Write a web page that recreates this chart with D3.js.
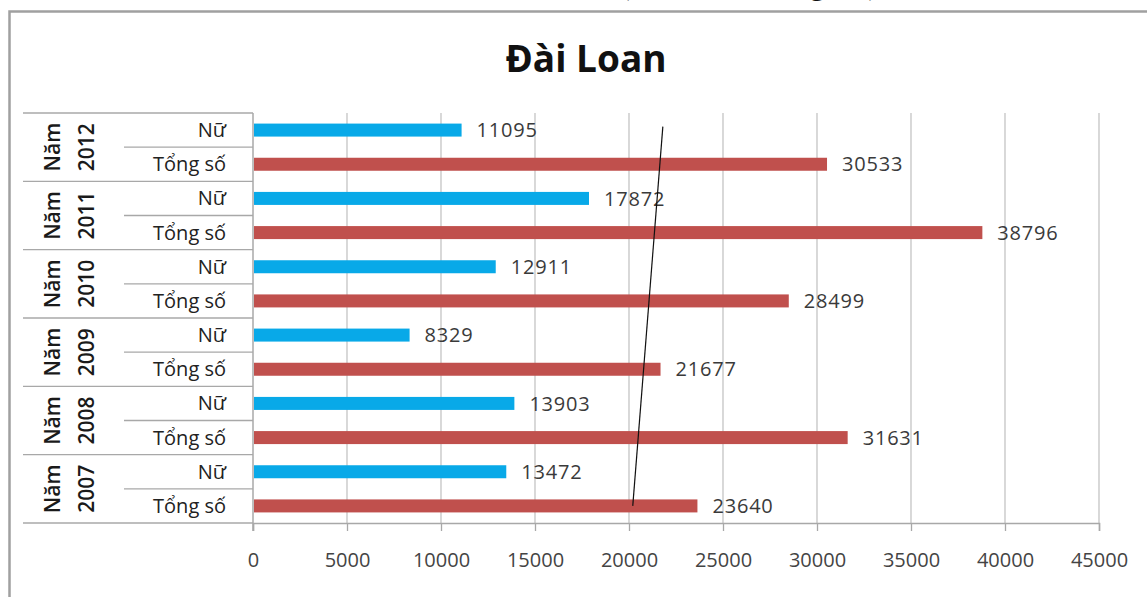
<!DOCTYPE html>
<html>
<head>
<meta charset="utf-8">
<script src="https://cdn.jsdelivr.net/npm/d3@7"></script>
<style>
  body { margin: 0; background: #fff; }
  svg { display: block; }
</style>
</head>
<body>
<svg id="chart" width="1147" height="597"></svg>
<script>
// data (top row first, as drawn)
var years = ["2012", "2011", "2010", "2009", "2008", "2007"];
var rowNames = ["Nữ", "Tổng số"];
var nuValues = [11095, 17872, 12911, 8329, 13903, 13472];
var tongValues = [30533, 38796, 28499, 21677, 31631, 23640];
var xTicks = [0, 5000, 10000, 15000, 20000, 25000, 30000, 35000, 40000, 45000];
// hand drawn line over the bars, in data units
var lineValues = [20200, 21800];
var lineRows = ["2007|Tổng số", "2012|Nữ"];
var lineShift = [0, -0.1]; // fraction of a row, up is negative

var svg = d3.select("#chart");
var W = 1147, H = 597;
var plotL = 253, plotR = 1099, plotT = 113, plotB = 523;

var rows = [];
years.forEach(function(yr, i){
  rows.push({key: yr + "|Nữ", year: yr, name: rowNames[0], value: nuValues[i], kind: "nu"});
  rows.push({key: yr + "|Tổng số", year: yr, name: rowNames[1], value: tongValues[i], kind: "tong"});
});

var x = d3.scaleLinear().domain([0, 45000]).range([plotL, plotR]);
var y = d3.scaleBand().domain(rows.map(function(d){ return d.key; })).range([plotT, plotB]);
var barH = 13;

// top text, only its bottom shows
svg.append("text")
  .attr("x", 749).attr("y", -6)
  .attr("text-anchor", "middle")
  .style("font-family", "'Liberation Serif', serif")
  .style("font-size", "32px")
  .attr("fill", "#111")
  .text("(Đơn vị tính: người)");

// chart frame
svg.append("path")
  .attr("d", "M9.5," + (H + 5) + "V11.5H" + (W + 5))
  .attr("fill", "none")
  .attr("stroke", "#a0a0a0")
  .attr("stroke-width", 2.5);

// title
svg.append("text")
  .attr("x", 586).attr("y", 72)
  .attr("text-anchor", "middle")
  .style("font-family", "'Open Sans', sans-serif")
  .style("font-weight", "bold")
  .style("font-size", "37px")
  .attr("fill", "#111")
  .text("Đài Loan");

// grid lines
svg.append("g").selectAll("line")
  .data(xTicks.slice(1))
  .enter().append("line")
  .attr("x1", function(d){ return x(d); })
  .attr("x2", function(d){ return x(d); })
  .attr("y1", plotT).attr("y2", plotB)
  .attr("stroke", "#c4c4c4")
  .attr("stroke-width", 1.3);

// x axis
var xAxis = svg.append("g")
  .attr("transform", "translate(0," + plotB + ")")
  .call(d3.axisBottom(x).tickValues(xTicks).tickSize(8).tickPadding(22).tickFormat(d3.format("d")));
xAxis.select(".domain").attr("stroke", "#a8a8a8").attr("stroke-width", 1.5);
xAxis.selectAll(".tick line").attr("stroke", "#a8a8a8").attr("stroke-width", 1.3);
xAxis.selectAll(".tick text")
  .style("font-family", "'Open Sans', sans-serif")
  .style("font-size", "20px")
  .attr("fill", "#444");

// category axis
var cat = svg.append("g");
cat.append("line")
  .attr("x1", plotL).attr("x2", plotL)
  .attr("y1", plotT).attr("y2", plotB + 8)
  .attr("stroke", "#a8a8a8").attr("stroke-width", 1.5);

var groupEdges = years.map(function(yr){ return y(yr + "|Nữ"); }).concat([plotB]);
cat.selectAll("line.group")
  .data(groupEdges)
  .enter().append("line")
  .attr("class", "group")
  .attr("x1", 23).attr("x2", plotL)
  .attr("y1", function(d){ return d; })
  .attr("y2", function(d){ return d; })
  .attr("stroke", "#a8a8a8").attr("stroke-width", 1.3);

cat.selectAll("line.inner")
  .data(years)
  .enter().append("line")
  .attr("class", "inner")
  .attr("x1", 124).attr("x2", plotL)
  .attr("y1", function(d){ return y(d + "|Tổng số"); })
  .attr("y2", function(d){ return y(d + "|Tổng số"); })
  .attr("stroke", "#a8a8a8").attr("stroke-width", 1.3);

cat.selectAll("text.row")
  .data(rows)
  .enter().append("text")
  .attr("class", "row")
  .attr("x", 226)
  .attr("y", function(d){ return y(d.key) + y.bandwidth() / 2; })
  .attr("dy", "0.35em")
  .attr("text-anchor", "end")
  .style("font-family", "'Open Sans', sans-serif")
  .style("font-size", "20px")
  .attr("fill", "#222")
  .text(function(d){ return d.name; });

var yearLab = cat.selectAll("g.year")
  .data(years)
  .enter().append("g")
  .attr("class", "year")
  .attr("transform", function(d){
    var c = y(d + "|Nữ") + y.bandwidth();
    return "translate(0," + c + ") rotate(-90)";
  });
yearLab.append("text")
  .attr("x", 0).attr("y", 60)
  .attr("text-anchor", "middle")
  .style("font-family", "'Open Sans', sans-serif")
  .style("font-weight", "600")
  .style("font-size", "21px")
  .attr("fill", "#1a1a1a")
  .text("Năm");
yearLab.append("text")
  .attr("x", 0).attr("y", 94)
  .attr("text-anchor", "middle")
  .style("font-family", "'Open Sans', sans-serif")
  .style("font-weight", "600")
  .style("font-size", "21px")
  .attr("fill", "#1a1a1a")
  .text(function(d){ return d; });

// bars
svg.append("g").selectAll("rect")
  .data(rows)
  .enter().append("rect")
  .attr("x", x(0) + 1)
  .attr("y", function(d){ return y(d.key) + (y.bandwidth() - barH) / 2; })
  .attr("width", function(d){ return x(d.value) - x(0) - 1; })
  .attr("height", barH)
  .attr("fill", function(d){ return d.kind === "nu" ? "#08a9e8" : "#c0504d"; });

// value labels
svg.append("g").selectAll("text")
  .data(rows)
  .enter().append("text")
  .attr("x", function(d){ return x(d.value) + 15; })
  .attr("y", function(d){ return y(d.key) + y.bandwidth() / 2; })
  .attr("dy", "0.36em")
  .style("font-family", "'Open Sans', sans-serif")
  .style("font-size", "20px")
  .style("letter-spacing", "0.8px")
  .attr("fill", "#3a3a3a")
  .text(function(d){ return d.value; });

// the hand drawn line
var linePts = lineValues.map(function(v, i){
  return [x(v), y(lineRows[i]) + y.bandwidth() / 2 + lineShift[i] * y.bandwidth()];
});
svg.append("path")
  .attr("d", d3.line()(linePts))
  .attr("fill", "none")
  .attr("stroke", "#111")
  .attr("stroke-width", 1.2);
</script>
</body>
</html>
